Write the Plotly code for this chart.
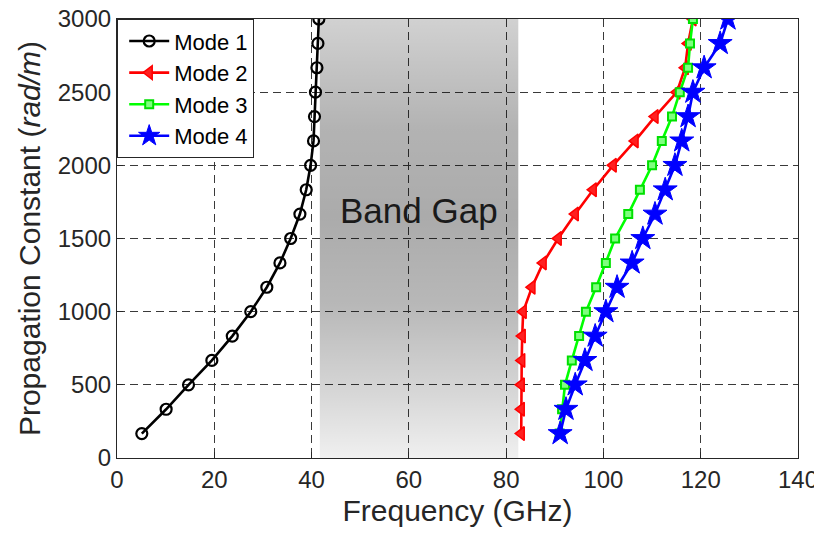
import plotly.graph_objects as go

beta = [167, 333, 500, 667, 833, 1000, 1167, 1333, 1500, 1667, 1833, 2000,
        2167, 2333, 2500, 2667, 2833, 3000]
mode1 = [5.1, 10.1, 14.7, 19.5, 23.7, 27.5, 30.8, 33.5, 35.7, 37.6, 38.9, 39.8,
         40.4, 40.6, 40.8, 41.1, 41.3, 41.5]
mode2 = [83.1, 83.1, 83.1, 83.2, 83.3, 83.5, 85.3, 87.6, 90.7, 94.2, 97.9, 102.0,
         106.5, 110.6, 115.1, 116.8, 117.4, 118.4]
mode3 = [91.0, 91.5, 92.1, 93.5, 95.0, 96.4, 98.5, 100.5, 102.4, 105.1, 107.5, 110.0,
         112.0, 114.1, 115.7, 117.4, 117.8, 118.4]
mode4 = [91.1, 92.3, 94.2, 96.2, 98.3, 100.5, 102.8, 105.9, 108.1, 110.6, 112.7, 114.7,
         116.1, 117.4, 118.4, 120.7, 124.0, 125.6]
band_gap = [41.7, 82.5]
beta_range = [0, 3000]
x_ticks = [0, 20, 40, 60, 80, 100, 120, 140]
y_ticks = [0, 500, 1000, 1500, 2000, 2500, 3000]

FONT = "Liberation Sans, Arial, sans-serif"
TXT = "#262626"

fig = go.Figure()

# band gap shaded region (gradient)
fig.add_trace(go.Scatter(
    x=[band_gap[0], band_gap[1], band_gap[1], band_gap[0], band_gap[0]],
    y=[beta_range[0], beta_range[0], beta_range[1], beta_range[1], beta_range[0]],
    mode="none", fill="toself",
    fillgradient=dict(type="vertical",
                      colorscale=[[0.0, "rgba(0,0,0,0.06)"], [0.15, "rgba(0,0,0,0.16)"],
                                  [0.35, "rgba(0,0,0,0.28)"], [0.55, "rgba(0,0,0,0.33)"],
                                  [0.75, "rgba(0,0,0,0.30)"], [1.0, "rgba(0,0,0,0.18)"]]),
    showlegend=False, hoverinfo="skip"))

fig.add_trace(go.Scatter(
    x=mode1, y=beta, name="Mode 1", mode="lines+markers",
    line=dict(color="black", width=2.6),
    marker=dict(symbol="circle-open", size=11, color="black", line=dict(width=2.2))))
fig.add_trace(go.Scatter(
    x=mode2, y=beta, name="Mode 2", mode="lines+markers",
    line=dict(color="#ff0000", width=2.6),
    marker=dict(symbol="triangle-left", size=12, color="#ff2020",
                line=dict(width=1.5, color="#ff0000"))))
fig.add_trace(go.Scatter(
    x=mode3, y=beta, name="Mode 3", mode="lines+markers",
    line=dict(color="#00ff00", width=2.6),
    marker=dict(symbol="square", size=8, color="#7fff7f",
                line=dict(width=2, color="#00e000"))))
fig.add_trace(go.Scatter(
    x=mode4, y=beta, name="Mode 4", mode="lines+markers",
    line=dict(color="#0000ff", width=2.6),
    marker=dict(symbol="star", size=18, color="#0000ff",
                line=dict(width=1, color="#0000ff"))))

fig.add_annotation(x=62, y=1690, text="Band Gap", showarrow=False,
                   font=dict(family=FONT, size=35, color="#1a1a1a"))

axis_common = dict(
    showline=True, linecolor=TXT, linewidth=1.2, mirror=True,
    ticks="inside", ticklen=6, tickcolor=TXT, tickwidth=1,
    showgrid=True, gridcolor="#3a3a3a", gridwidth=1, griddash="8px,5px",
    zeroline=False, tickfont=dict(family=FONT, size=24, color=TXT),
    automargin=False, ticklabeloverflow="allow",
)

fig.update_xaxes(range=[0, 140], tickvals=x_ticks, **axis_common,
                 title=dict(text="Frequency (GHz)", font=dict(family=FONT, size=30, color=TXT),
                            standoff=8))
fig.update_yaxes(range=[0, 3000], tickvals=y_ticks, **axis_common,
                 title=dict(text="Propagation Constant (<i>rad/m</i>)",
                            font=dict(family=FONT, size=30, color=TXT), standoff=8))

fig.update_layout(
    width=814, height=533,
    margin=dict(l=109, r=24, t=11, b=83),
    plot_bgcolor="white", paper_bgcolor="white",
    legend=dict(x=0, y=1, xanchor="left", yanchor="top",
                bgcolor="white", bordercolor=TXT, borderwidth=1.2,
                font=dict(family=FONT, size=22, color="black"),
                tracegroupgap=0, itemwidth=40, indentation=6),
    showlegend=True,
)

fig.write_html("out.html")
